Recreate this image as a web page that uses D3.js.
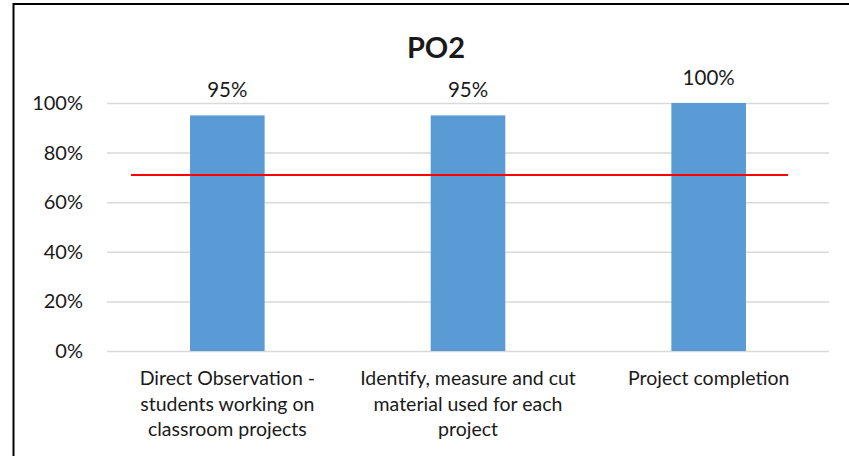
<!DOCTYPE html>
<html>
<head>
<meta charset="utf-8">
<script src="https://cdn.jsdelivr.net/npm/d3@7"></script>
<style>
  body { margin: 0; background: #fff; }
  text { font-family: Lato, "Open Sans", sans-serif; fill: #1a1a1a; }
</style>
</head>
<body>
<div id="chart"></div>
<script>
// chart data
const categories = [
  ["Direct Observation -", "students working on", "classroom projects"],
  ["Identify, measure and cut", "material used for each", "project"],
  ["Project completion"]
];
const values = [0.95, 0.95, 1.00];
const yTicks = [0, 0.2, 0.4, 0.6, 0.8, 1.0];
const target = 0.71;              // red benchmark line
const targetSpan = [0.1, 2.83];   // in category units
const title = "PO2";

let width = 849, height = 456;
let margin = {top: 103, right: 20, bottom: 105, left: 107};
let innerWidth = 829 - margin.left;
let innerHeight = 351 - margin.top;

let svg = d3.select("#chart").append("svg")
  .attr("width", width)
  .attr("height", height);

// outer chart border (only top and left visible)
svg.append("line").attr("x1", 13).attr("x2", width).attr("y1", 4).attr("y2", 4)
  .attr("stroke", "#000").attr("stroke-width", 2);
svg.append("line").attr("x1", 13.5).attr("x2", 13.5).attr("y1", 3).attr("y2", height)
  .attr("stroke", "#000").attr("stroke-width", 2);

svg.append("text")
  .attr("x", 436).attr("y", 58)
  .attr("text-anchor", "middle")
  .style("font-size", "29px").style("font-weight", "bold")
  .text(title);

let g = svg.append("g")
  .attr("transform", "translate(" + margin.left + "," + margin.top + ")");

let x = d3.scaleBand()
  .domain(d3.range(categories.length))
  .range([0, innerWidth])
  .paddingInner(0.69).paddingOuter(0.345);

let xLin = d3.scaleLinear().domain([0, categories.length]).range([0, innerWidth]);

let y = d3.scaleLinear().domain([0, 1]).range([innerHeight, 0]);

// gridlines
let yAxis = d3.axisLeft(y).tickValues(yTicks)
  .tickSize(-innerWidth).tickPadding(24)
  .tickFormat(d3.format(".0%"));
let ya = g.append("g").call(yAxis);
ya.select(".domain").remove();
ya.selectAll(".tick line").attr("stroke", "#d9d9d9").attr("stroke-width", 1.5);
ya.selectAll(".tick text").style("font-size", "20px").attr("fill", "#1a1a1a");

// bars
g.selectAll("rect.bar")
  .data(values)
  .join("rect")
  .attr("class", "bar")
  .attr("x", (d, i) => x(i))
  .attr("width", x.bandwidth())
  .attr("y", d => y(d))
  .attr("height", d => innerHeight - y(d))
  .attr("fill", "#5b9bd5");

// data labels
g.selectAll("text.lbl")
  .data(values)
  .join("text")
  .attr("class", "lbl")
  .attr("x", (d, i) => x(i) + x.bandwidth() / 2)
  .attr("y", d => y(d) - 18)
  .attr("text-anchor", "middle")
  .style("font-size", "20.5px")
  .text(d => d3.format(".0%")(d));

// benchmark line
g.append("line")
  .attr("x1", xLin(targetSpan[0])).attr("x2", xLin(targetSpan[1]))
  .attr("y1", y(target)).attr("y2", y(target))
  .attr("stroke", "#ff0000").attr("stroke-width", 2);

// category labels
let cats = g.selectAll("text.cat")
  .data(categories)
  .join("text")
  .attr("class", "cat")
  .attr("text-anchor", "middle")
  .style("font-size", "19.5px")
  .attr("transform", (d, i) => "translate(" + (x(i) + x.bandwidth() / 2) + "," + (innerHeight + 34) + ")");
cats.selectAll("tspan")
  .data(d => d)
  .join("tspan")
  .attr("x", 0)
  .attr("y", (d, i) => i * 25.7)
  .text(d => d);
</script>
</body>
</html>
